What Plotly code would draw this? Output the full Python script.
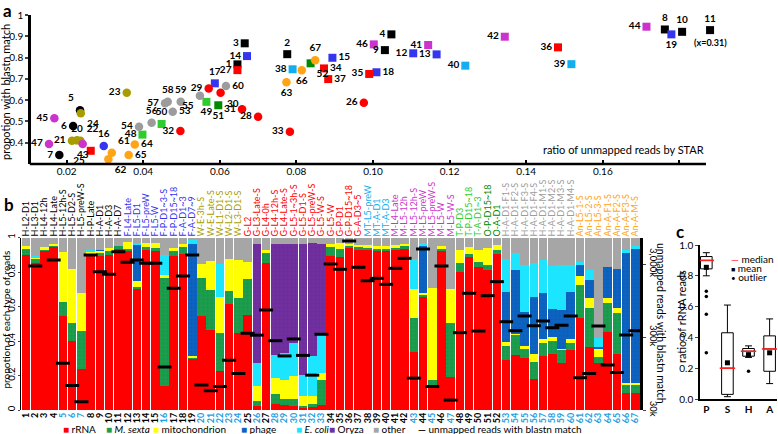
import numpy as np
import plotly.graph_objects as go

# ---------------- data ----------------
sample_names = [
    "H-L2-D1", "H-L3-D1", "H-L4-12h", "H-L4-Late", "H-L5-12h-S", "H-L5-D2-S", "H-L5-preW-S",
    "H-P-Late", "H-A-D1", "H-A-D3", "H-A-D7",
    "F-L4-Late", "F-L5-D1", "F-L5-preW", "F-L5-W", "F-P-D1~3-S", "F-P-D15~18", "F-A-D1~3", "F-A-D7~9",
    "W-E-3h-S", "W-E-Late-S", "W-L1-D1-S", "W-L2-D1-S", "W-L3-D1-S",
    "G-L2", "G-L3-Late-S", "G-L4-0h", "G-L4-12h-S", "G-L4-Late-S", "G-L5-1~3h-S", "G-L5-D1-S",
    "G-L5-preW-S", "G-L5-W-S", "G-L5-W", "G-P-D1", "G-P-D15~18", "G-A-D3~5",
    "MT-L5-preW", "MT-A-D1", "MT-A-D3",
    "M-L4-Late", "M-L5-12h", "M-L5-12h-S", "M-L5-preW", "M-L5-preW-S", "M-L5-W", "M-L5-W-S",
    "T-P-D3", "T-P-D15~18", "T-A-D1~3", "O-P-D15~18", "O-A-D1",
    "H-A-D1-F1-S", "H-A-D1-F2-S", "H-A-D1-F3-S", "H-A-D1-F4-S",
    "H-A-D1-M1-S", "H-A-D1-M2-S", "H-A-D1-M3-S", "H-A-D1-M4-S",
    "An-L5-1-S", "An-L5-2-S", "An-L5-3-S", "An-A-F1-S", "An-A-F2-S", "An-A-F3-S", "An-A-M-S",
]
sample_ids = list(range(1, 68))

# panel a: ratio of unmapped reads by STAR / proportion with blastn match
star_ratio = [
    0.0646, 0.0776, 0.0665, 0.1048, 0.0235, 0.0217, 0.0181, 0.1762, 0.1031, 0.1807, 0.31,
    0.1105, 0.1166, 0.0671, 0.0894, 0.0297, 0.0587, 0.1009, 0.1779,
    0.0227, 0.0214, 0.0236, 0.0357, 0.0237,
    0.0263, 0.0976, 0.0646, 0.0700, 0.0571, 0.0602, 0.0658, 0.0497, 0.0783, 0.0872, 0.0990, 0.1483, 0.0883,
    0.0790, 0.1518, 0.1241,
    0.1144, 0.1344, 0.0242, 0.1714, 0.0168, 0.1002, 0.0154,
    0.0398, 0.0565, 0.0448, 0.0596, 0.0837,
    0.0477, 0.0389, 0.0548, 0.0422, 0.0457, 0.0464, 0.0498, 0.0616,
    0.0318, 0.0309, 0.0774, 0.0378, 0.0362, 0.0814, 0.0849,
]
blastn_prop = [
    0.768, 0.816, 0.867, 0.909, 0.553, 0.478, 0.342, 0.932, 0.835, 0.921, 0.929,
    0.820, 0.815, 0.807, 0.799, 0.385, 0.679, 0.731, 0.909,
    0.411, 0.409, 0.409, 0.635, 0.538,
    0.362, 0.588, 0.741, 0.522, 0.655, 0.635, 0.557, 0.455, 0.452, 0.749, 0.723, 0.848, 0.699,
    0.745, 0.769, 0.762,
    0.859, 0.898, 0.394, 0.945, 0.515, 0.862, 0.394,
    0.438, 0.592, 0.488, 0.576, 0.773,
    0.546, 0.475, 0.621, 0.494, 0.585, 0.592, 0.592, 0.666,
    0.353, 0.322, 0.684, 0.392, 0.342, 0.741, 0.788,
]
x_break = 0.188  # samples beyond the axis are drawn at its end

# panel b: proportion of each type of reads
rrna = [0.90, 0.85, 0.93, 0.95, 0.544, 0.40, 0.24, 0.90, 0.89, 0.90, 0.94,
        0.93, 0.70, 0.93, 0.92, 0.14, 0.89, 0.905, 0.30,
        0.546, 0.463, 0.225, 0.614, 0.448,
        0.55, 0.023, 0.85, 0.035, 0.03, 0.023, 0.015, 0.02, 0.03, 0.89, 0.885, 0.945, 0.925,
        0.935, 0.93, 0.927,
        0.935, 0.935, 0.338, 0.66, 0.125, 0.92, 0.193,
        0.80, 0.885, 0.83, 0.81, 0.905,
        0.29, 0.318, 0.30, 0.178, 0.312, 0.324, 0.27, 0.347,
        0.531, 0.367, 0.27, 0.454, 0.324, 0.10, 0.10]
m_sexta = [0.04, 0.03, 0.005, 0.005, 0.083, 0.105, 0.216, 0.01, 0.02, 0.03, 0.01,
           0.005, 0.015, 0.015, 0.02, 0.625, 0.04, 0.045, 0.01,
           0.222, 0.232, 0.22, 0.077, 0.20,
           0.21, 0.027, 0.06, 0.058, 0.033, 0.039, 0.01, 0.016, 0.145, 0.055, 0.05, 0.005, 0.025,
           0.01, 0.005, 0.005,
           0.01, 0.015, 0.193, 0.005, 0.05, 0.02, 0.313,
           0.05, 0.02, 0.03, 0.03, 0.02,
           0.081, 0.12, 0.052, 0.102, 0.074, 0.077, 0.081, 0.043,
           0.193, 0.226, 0.035, 0.164, 0.236, 0.05, 0.05]
mito = [0.01, 0.005, 0.01, 0.01, 0.29, 0.31, 0.22, 0.01, 0.015, 0.01, 0.0,
        0.04, 0.035, 0.025, 0.03, 0.02, 0.01, 0.01, 0.005,
        0.08, 0.17, 0.21, 0.184, 0.22,
        0.097, 0.09, 0.02, 0.09, 0.112, 0.135, 0.054, 0.048, 0.038, 0.02, 0.035, 0.015, 0.005,
        0.01, 0.015, 0.02,
        0.01, 0.015, 0.173, 0.015, 0.535, 0.01, 0.198,
        0.075, 0.04, 0.07, 0.10, 0.03,
        0.025, 0.005, 0.019, 0.044, 0.023, 0.023, 0.005, 0.019,
        0.052, 0.058, 0.046, 0.029, 0.029, 0.005, 0.005]
phage = [0, 0, 0, 0, 0, 0, 0, 0, 0.005, 0, 0,
         0, 0.215, 0, 0, 0, 0, 0, 0.645,
         0, 0, 0, 0, 0,
         0, 0, 0, 0, 0, 0, 0, 0, 0, 0, 0, 0, 0,
         0, 0, 0,
         0, 0, 0, 0.27, 0, 0, 0,
         0, 0, 0, 0, 0,
         0.289, 0.37, 0.198, 0.332, 0.267, 0.164, 0.224, 0.276,
         0.064, 0.102, 0.015, 0.183, 0.231, 0.76, 0.78]
e_coli = [0, 0.005, 0, 0, 0, 0, 0, 0.01, 0, 0, 0,
          0, 0.005, 0, 0, 0.115, 0, 0, 0.03,
          0, 0, 0.19, 0, 0,
          0, 0.13, 0, 0.135, 0.158, 0.189, 0.126, 0.23, 0.222, 0, 0, 0, 0,
          0, 0, 0,
          0, 0, 0.174, 0.02, 0, 0, 0,
          0, 0, 0, 0, 0,
          0.193, 0.095, 0.27, 0.197, 0.196, 0.245, 0.258, 0.154,
          0.019, 0.058, 0.05, 0, 0, 0.01, 0.015]
oryza = [0, 0, 0, 0, 0, 0, 0, 0, 0, 0, 0,
         0, 0, 0, 0, 0, 0, 0, 0,
         0, 0, 0, 0, 0,
         0, 0.695, 0, 0.647, 0.632, 0.579, 0.76, 0.656, 0.53, 0, 0, 0, 0,
         0, 0, 0,
         0, 0, 0, 0, 0, 0, 0,
         0, 0, 0, 0, 0,
         0, 0, 0, 0, 0, 0, 0, 0,
         0, 0, 0, 0, 0, 0, 0]
other = [0.05, 0.11, 0.055, 0.035, 0.083, 0.185, 0.324, 0.07, 0.07, 0.06, 0.05,
         0.025, 0.03, 0.03, 0.03, 0.10, 0.06, 0.04, 0.01,
         0.152, 0.135, 0.155, 0.125, 0.132,
         0.143, 0.035, 0.07, 0.035, 0.035, 0.035, 0.035, 0.03, 0.035, 0.035, 0.03, 0.035, 0.045,
         0.045, 0.05, 0.048,
         0.045, 0.035, 0.122, 0.03, 0.29, 0.05, 0.296,
         0.075, 0.055, 0.07, 0.06, 0.045,
         0.122, 0.092, 0.161, 0.147, 0.128, 0.167, 0.162, 0.161,
         0.141, 0.189, 0.584, 0.17, 0.18, 0.075, 0.05]
# unmapped reads with blastn match (thousands); None = not shown
blastn_reads_k = [None, 2817, None, 3400, 131, 65, 39, 3985, 2355, 2170, 4420,
                  3165, 3400, 3065, 3065, 116, 1394, 2055, 3985,
                  66, 55, 63, 144, 95,
                  337, 318, 703, 267, 165, 282, 168, 90, 327, 3000, 2540, 6195, 2705,
                  1770, 1910, 1580,
                  2620, 3590, 82, 4810, 63, 2817, 41,
                  344, 1191, 362, 1104, 1718,
                  486, 366, 582, 429, 497, 402, 434, 582,
                  83, 95, 424, 124, 98, 320, 366]

# panel c: ratio of rRNA reads per stage
stages = ["P", "S", "H", "A"]
box_low = [0.80, 0.015, 0.27, 0.10]
box_q1 = [0.845, 0.03, 0.278, 0.18]
box_med = [0.90, 0.20, 0.31, 0.325]
box_q3 = [0.925, 0.43, 0.328, 0.41]
box_high = [0.95, 0.61, 0.345, 0.52]
box_mean = [0.855, 0.235, 0.288, 0.30]
outlier_stage = ["P", "P", "P", "P", "H"]
outlier_val = [0.70, 0.665, 0.55, 0.30, 0.18]

# ---------------- styles ----------------
group_colors = {"H": "#000000", "F": "#3535f0", "W": "#a89c00", "G": "#ff0000", "MT": "#12aeef",
                "M": "#cc33cc", "T": "#2ecc2e", "O": "#008a00", "HA": "#9c9c9c", "An": "#ffa414"}
S_NUM_COLOR = "#1e9fe3"
FONT = "Lato, 'Open Sans', sans-serif"


def group_of(name):
    if name.startswith("H-A-D1-"):
        return "HA"
    return name.split("-")[0]


groups = [group_of(n) for n in sample_names]
is_s = [n.endswith("-S") for n in sample_names]
pt_colors = [group_colors[g] for g in groups]

label_pos = {1: "middle left", 2: "top center", 3: "middle left", 4: "middle left", 5: "top left",
             6: "middle left", 7: "middle left", 8: "top center", 9: "middle left", 10: "top center",
             11: "top center", 12: "middle left", 13: "middle left", 14: "middle left",
             15: "middle right", 16: "top center", 17: "top center", 18: "middle right",
             19: "bottom center", 20: "top center", 21: "middle left", 22: "top right",
             23: "middle left", 24: "bottom right", 25: "bottom left", 26: "middle left",
             27: "middle left", 28: "middle left", 29: "middle left", 30: "bottom right",
             31: "middle left", 32: "middle left", 33: "middle left", 34: "middle right",
             35: "middle left", 36: "middle left", 37: "middle right", 38: "middle left",
             39: "middle left", 40: "middle left", 41: "middle left", 42: "middle left",
             43: "bottom center", 44: "middle left", 45: "middle left", 46: "middle left",
             47: "middle left", 48: "middle left", 49: "bottom center", 50: "top center",
             51: "bottom center", 52: "bottom right", 53: "middle right", 54: "middle left",
             55: "bottom left", 56: "top center", 57: "middle left", 58: "top center",
             59: "top center", 60: "middle right", 61: "top right", 62: "bottom right",
             63: "bottom center", 64: "middle right", 65: "middle right", 66: "bottom center",
             67: "top center"}

W, H = 778, 434


def px(x):
    return x / W


def py(y):
    return 1 - y / H


# panel a x scale: 0.02 per 76.6 px, axis drawn from x=31 to x=706
XA0, XA1, XA_PX = 0.0107, 0.1925, 76.6 / 0.02
XA_RIGHT = 31 + (XA1 - XA0) * XA_PX

fig = go.Figure()

# ---------------- panel a ----------------
x_plot = np.minimum(np.array(star_ratio), x_break)
for sflag, sym, size in [(False, "square", 8), (True, "circle", 8.5)]:
    idx = [i for i in range(67) if is_s[i] == sflag]
    fig.add_trace(go.Scatter(
        x=x_plot[idx], y=[blastn_prop[i] for i in idx],
        mode="markers+text", text=[str(sample_ids[i]) for i in idx],
        textposition=[label_pos[sample_ids[i]] for i in idx],
        textfont=dict(size=10, color="black", family=FONT, weight="bold"),
        marker=dict(symbol=sym, size=size, color=[pt_colors[i] for i in idx], line=dict(width=0)),
        cliponaxis=False, showlegend=False, hoverinfo="skip", xaxis="x", yaxis="y"))

# ---------------- panel b ----------------
segments = [("rRNA", rrna, "#ff0000", None),
            ("M. sexta", m_sexta, "#1b9e4e", "#0f6e34"),
            ("mitochondrion", mito, "#ffff00", None),
            ("phage", phage, "#0d63c2", "#083f80"),
            ("E. coli", e_coli, "#1ce6ff", None),
            ("Oryza", oryza, "#7030a0", "#4a1d6e"),
            ("other", other, "#a6a6a6", None)]
for name, vals, col, dots in segments:
    mk = dict(color=col, line=dict(width=0))
    if dots:
        mk["pattern"] = dict(shape=".", fgcolor=dots, size=4, solidity=0.12)
    fig.add_trace(go.Bar(x=sample_ids, y=vals, name=name, marker=mk, showlegend=False,
                         xaxis="x2", yaxis="y2", hoverinfo="skip"))

fig.add_trace(go.Scatter(x=sample_ids, y=blastn_reads_k, mode="markers",
                         marker=dict(symbol="line-ew", size=10, line=dict(width=3, color="black")),
                         showlegend=False, hoverinfo="skip", xaxis="x2", yaxis="y3"))
# carrier for the top label axis
fig.add_trace(go.Scatter(x=[1], y=[0.5], mode="markers", marker=dict(opacity=0),
                         showlegend=False, hoverinfo="skip", xaxis="x3", yaxis="y2"))

# ---------------- panel c ----------------
pos_c = list(range(len(stages)))
fig.add_trace(go.Box(x=pos_c, q1=box_q1, median=box_med, q3=box_q3,
                     lowerfence=box_low, upperfence=box_high, width=0.55, whiskerwidth=0.6,
                     fillcolor="white", line=dict(color="black", width=1), boxpoints=False,
                     showlegend=False, hoverinfo="skip", xaxis="x4", yaxis="y4"))
fig.add_trace(go.Scatter(x=pos_c, y=box_med, mode="markers",
                         marker=dict(symbol="line-ew", size=11, line=dict(width=1.6, color="#ff2020")),
                         showlegend=False, hoverinfo="skip", xaxis="x4", yaxis="y4"))
fig.add_trace(go.Scatter(x=pos_c, y=box_mean, mode="markers",
                         marker=dict(symbol="square", size=5, color="black"),
                         showlegend=False, hoverinfo="skip", xaxis="x4", yaxis="y4"))
fig.add_trace(go.Scatter(x=[stages.index(s) for s in outlier_stage], y=outlier_val, mode="markers",
                         marker=dict(symbol="circle", size=3.5, color="black"),
                         showlegend=False, hoverinfo="skip", xaxis="x4", yaxis="y4"))

# ---------------- axes ----------------
num_text = ["<b><span style='color:%s'>%d</span></b>" % (S_NUM_COLOR if s else "#000000", i)
            for i, s in zip(sample_ids, is_s)]
name_text = ["<span style='color:%s'>%s</span>" % (group_colors[g], n)
             for g, n in zip(groups, sample_names)]
ax_font = dict(size=10, color="black", family=FONT)
common = dict(showgrid=False, zeroline=False, automargin=False)

fig.update_layout(
    width=W, height=H, autosize=False,
    margin=dict(l=0, r=0, t=0, b=0, pad=0, autoexpand=False),
    paper_bgcolor="white", plot_bgcolor="white",
    font=dict(family=FONT, color="black"),
    barmode="stack", bargap=0.07, showlegend=False,
    xaxis=dict(domain=[px(31), px(XA_RIGHT)], range=[XA0, XA1], anchor="y",
               tickvals=[0.02, 0.04, 0.06, 0.08, 0.10, 0.12, 0.14, 0.16, 0.18],
               ticktext=["0.02", "0.04", "0.06", "0.08", "0.10", "0.12", "0.14", "0.16", ""],
               ticks="inside", ticklen=4, tickwidth=1.5, tickcolor="black", showline=False,
               tickfont=ax_font, **common),
    yaxis=dict(domain=[py(164), py(15)], range=[0.3, 1.0], anchor="x",
               tickvals=[0.4, 0.5, 0.6, 0.7, 0.8, 0.9, 1.0],
               ticktext=["0.4", "0.5", "0.6", "0.7", "0.8", "0.9", "1"],
               ticks="outside", ticklen=3, tickwidth=1.5, showline=True, linewidth=2.5,
               linecolor="black", tickfont=ax_font, **common),
    xaxis2=dict(domain=[px(21.4), px(640)], range=[0.5, 67.5], anchor="y2",
                tickvals=sample_ids, ticktext=num_text, tickangle=-90, ticks="",
                showline=False, tickfont=dict(size=9, family=FONT), **common),
    xaxis3=dict(overlaying="x2", side="top", anchor="y2", range=[0.5, 67.5],
                tickvals=sample_ids, ticktext=name_text, tickangle=-90, ticks="",
                showline=False, tickfont=dict(size=9, family=FONT), **common),
    yaxis2=dict(domain=[py(410), py(237.5)], range=[0, 1], anchor="x2",
                tickvals=[0, 0.2, 0.4, 0.6, 0.8, 1.0], ticktext=["0", "0.2", "0.4", "0.6", "0.8", "1"],
                tickangle=-90, ticks="outside", ticklen=2, showline=True, linewidth=1,
                linecolor="black", tickfont=dict(size=9.5, color="black", family=FONT), **common),
    yaxis3=dict(overlaying="y2", side="right", anchor="x2", type="log",
                range=[np.log10(30), np.log10(30) + 172.5 / 73],
                tickvals=[30, 300, 3000], ticktext=["30k", "300k", "3,000k"], tickangle=90,
                ticks="outside", ticklen=3, showline=True, linewidth=2.5, linecolor="black",
                tickfont=dict(size=9.5, color="black", family=FONT), **common),
    xaxis4=dict(domain=[px(700), px(777)], range=[-0.3, 3.35], anchor="y4",
                tickvals=pos_c, ticktext=["<b>%s</b>" % s for s in stages], ticks="",
                showline=True, linewidth=1.5, linecolor="black", tickfont=ax_font, **common),
    yaxis4=dict(domain=[py(399), py(245)], range=[0, 1.0], anchor="x4",
                tickvals=[0, 0.2, 0.4, 0.6, 0.8, 1.0], tickformat=".1f",
                ticks="outside", ticklen=3, showline=True, linewidth=1.5, linecolor="black",
                tickfont=ax_font, **common),
    # panel a bottom axis line stops short of the clipped sample
    shapes=[dict(type="line", xref="paper", yref="paper", x0=px(29.8), x1=px(706),
                 y0=py(164), y1=py(164), line=dict(color="black", width=2.5))],
)

# ---------------- text ----------------
ann = []


def add_text(x, y, text, size=11, angle=0, xa="center", ya="middle", **kw):
    ann.append(dict(x=x, y=y, xref="paper", yref="paper", text=text, showarrow=False,
                    textangle=angle, xanchor=xa, yanchor=ya,
                    font=dict(size=size, color="black", family=FONT), **kw))


add_text(px(1), py(-2), "<b>a</b>", size=17, xa="left", ya="top")
add_text(px(2), py(192), "<b>b</b>", size=17, xa="left", ya="top")
add_text(px(674), py(219), "<b>c</b>", size=17, xa="left", ya="top")
add_text(px(6), py(92), "propotion with blastn match", size=11, angle=-90)
add_text(px(706), py(150), "ratio of unmapped reads by STAR", size=11, xa="right")
add_text(px(5.5), py(320), "propotion of each type of reads", size=10, angle=-90)
add_text(px(661), py(323), "unmapped reads with blastn match", size=10.5, angle=90)
add_text(px(681), py(317), "ratio of rRNA reads", size=11, angle=-90)

# "(x=0.31)" note under the clipped sample
i11 = sample_ids.index(11)
ann.append(dict(x=float(x_plot[i11]), y=blastn_prop[i11], xref="x", yref="y",
                text="<b>(x=%.2f)</b>" % star_ratio[i11], showarrow=False, yshift=-12,
                font=dict(size=9, color="black", family=FONT)))

# panel c legend
add_text(px(729), py(259), "<span style='color:#ff2020'>—</span> median", size=10, xa="left")
add_text(px(729), py(268), "<span style='font-size:7px'>■</span> mean", size=10, xa="left")
add_text(px(729), py(277), "<span style='font-size:8px'>•</span> outlier", size=10, xa="left")

# panel b legend
leg_x = [61, 104, 151, 239, 294, 327, 371]
leg_names = ["rRNA", "<i>M. sexta</i>", "mitochondrion", "phage", "<i>E. coli</i>", "Oryza", "other"]
for lx, nm, (_, _, col, _) in zip(leg_x, leg_names, segments):
    add_text(px(lx), py(429), "<span style='color:%s'>■</span> %s" % (col, nm), size=10, xa="left")
add_text(px(416), py(429), "<b>—</b> unmapped reads with blastn match", size=10, xa="left")

fig.update_layout(annotations=ann)
fig.write_html("out.html", config={"displayModeBar": False},
               post_script="document.body.style.margin='0px';document.body.style.padding='0px';")
